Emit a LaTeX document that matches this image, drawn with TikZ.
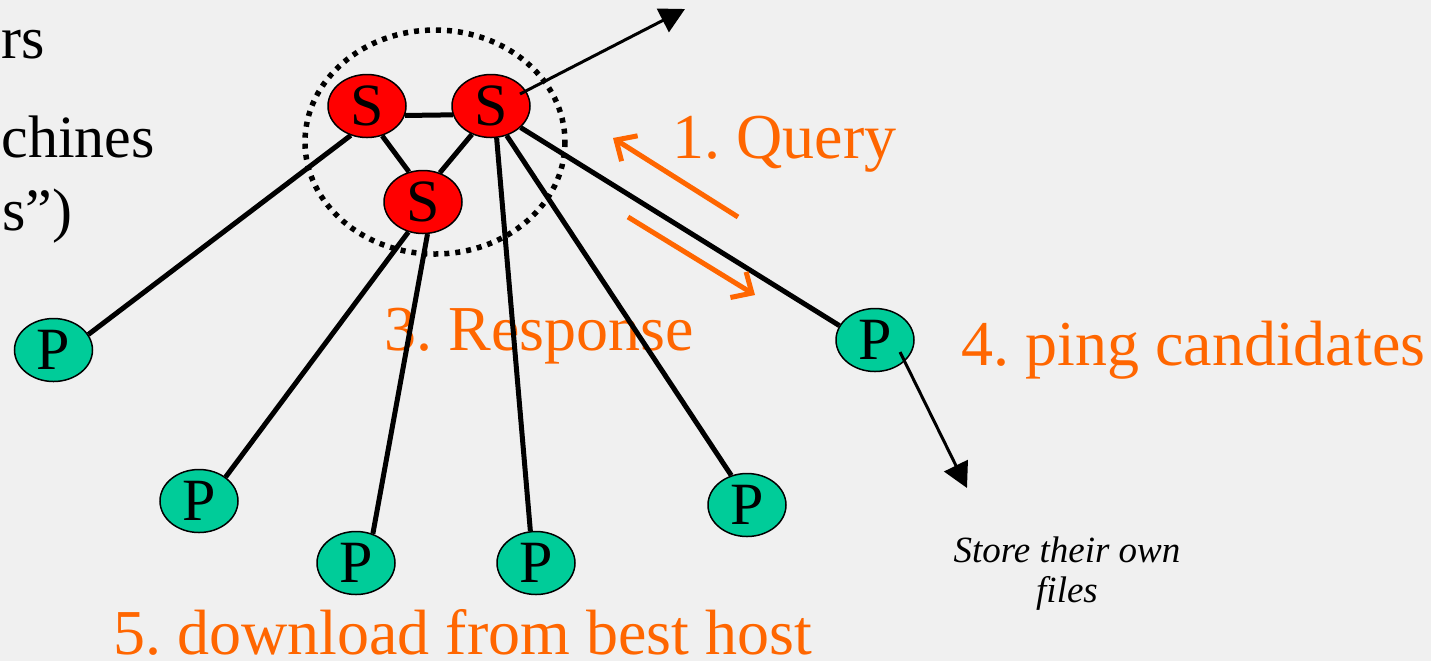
\documentclass[tikz,border=0pt]{standalone}
\usepackage{fontspec}
\setmainfont{Liberation Serif}
\usetikzlibrary{arrows.meta,shapes.geometric,calc}
\definecolor{bg}{HTML}{F0F0F0}
\definecolor{orng}{HTML}{FF6600}
\definecolor{sred}{HTML}{FF0000}
\definecolor{pgreen}{HTML}{00CC99}
\frenchspacing
\begin{document}
\begin{tikzpicture}[x=0.5pt,y=-0.5pt,
 snode/.style={ellipse,draw=black,line width=0.75pt,fill=sred,minimum width=39pt,minimum height=31.5pt,inner sep=0pt,font=\fontsize{30}{30}\selectfont},
 pnode/.style={snode,fill=pgreen},
 link/.style={line width=2.5pt},
 blackarrow/.style={line width=1.5pt,-{Triangle[length=12.5pt,width=13pt]}},
 orangearrow/.style={draw=orng,line width=2.5pt,-{Straight Barb[length=8pt,width=15pt]}},
 lbl/.style={text=orng,font=\fontsize{32}{32}\selectfont,anchor=base west,inner sep=0pt,text depth=0pt},
 side/.style={font=\fontsize{30}{30}\selectfont,anchor=base west,inner sep=0pt},
 note/.style={font=\itshape\fontsize{18.5}{20}\selectfont,align=center,anchor=base,inner sep=0pt},
 group/.style={line width=2.75pt,dash pattern=on 2.5pt off 3pt}
]
\fill[bg] (0,0) rectangle (1431,661);
\useasboundingbox (0,0) rectangle (1431,661);

% side text
\node[side] (s1) at (1,58) {rs};
\node[side] (s2) at (1,157) {chines};
\node[side] (s3) at (2,230) {s”)};

% labels
\node[lbl] (query) at (672,158) {1. Query};
\node[lbl] (resp) at (384,350) {3. Response};
\node[lbl] (ping) at (961,365) {4. ping candidates};
\node[lbl] (down) at (113,654) {5. download from best host};
\node[note] (store) at (1067,602) {Store their own\\files};

% group circle
\draw[group] (435,142) ellipse [x radius=130, y radius=112];

% nodes
\node[snode] (S1) at (367,106) {S};
\node[snode] (S2) at (491,106) {S};
\node[snode] (S3) at (423,202) {S};
\node[pnode] (Pl) at (53.5,350) {P};
\node[pnode] (P1) at (199,501) {P};
\node[pnode] (P2) at (356,563) {P};
\node[pnode] (P3) at (536,563) {P};
\node[pnode] (P4) at (747,505) {P};
\node[pnode] (Pr) at (875,340) {P};

% links
\draw[link] (S1.346.6) -- (S2.193.4);
\draw[link] (S1.297) -- (S3.115);
\draw[link] (S2.236) -- (S3.60.5);
\draw[link] (S1.241) -- (Pl.24);
\draw[link] (S3.244) -- (P1.42);
\draw[link] (S3.278.6) -- (P2.60.6);
\draw[link] (S2.280.6) -- (P3.100.6);
\draw[link] (S2.298.7) -- (P4.118);
\draw[link] (S2.324) -- (Pr.158.5);

% black arrows
\coordinate (t1) at (685,9);
\coordinate (t2) at (967,488);
\draw[blackarrow] ([shift={(29,-12)}]S2.center) -- (t1);
\draw[blackarrow] ([shift={(25,12)}]Pr.center) -- (t2);

% orange arrows
\coordinate (qa) at (738,217);
\coordinate (qb) at (613,138);
\coordinate (ra) at (628,217);
\coordinate (rb) at (755,295);
\draw[orangearrow] (qa) -- (qb);
\draw[orangearrow] (ra) -- (rb);
\end{tikzpicture}
\end{document}
